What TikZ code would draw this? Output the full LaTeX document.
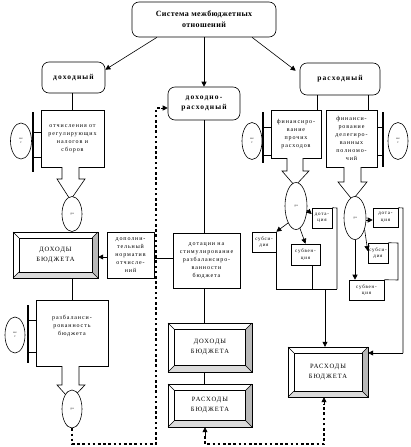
\documentclass[tikz,border=0pt]{standalone}
\usepackage{fontspec}
\setmainfont{Liberation Serif}[LetterSpace=15]
\usetikzlibrary{arrows.meta,calc,shapes.geometric}
\newcommand\bevelbox[7]{%
  \fill[gray!55] (#4,#3) -- (#4,#5) -- ({#4-#6},{#5-#6}) -- ({#4-#6},{#3+#6}) -- cycle;
  \fill[gray!28] (#2,#5) -- (#4,#5) -- ({#4-#6},{#5-#6}) -- ({#2+#6},{#5-#6}) -- cycle;
  \draw[ln] (#2,#3) rectangle (#4,#5);
  \draw[ln] ({#2+#6},{#3+#6}) rectangle ({#4-#6},{#5-#6});
  \draw[ln] (#2,#3) -- ({#2+#6},{#3+#6}) (#4,#3) -- ({#4-#6},{#3+#6})
            (#4,#5) -- ({#4-#6},{#5-#6}) (#2,#5) -- ({#2+#6},{#5-#6});
  \node[bev,minimum width={(#4-#2)*1pt},minimum height={(#5-#3)*1pt}] (#1) at ({(#2+#4)/2},{(#3+#5)/2}) {#7};
}
\newcommand\downarrowshape[7]{% x1 x2 ytop yhead hx1 hx2 tipy
  \filldraw[ln,fill=white] (#1,#3) -- (#1,#4) -- (#5,#4) -- ({(#1+#2)/2},#7) -- (#6,#4) -- (#2,#4) -- (#2,#3);
}
\begin{document}
\begin{tikzpicture}[x=1pt,y=-1pt,
  ln/.style={line width=0.6pt},
  arr/.style={line width=0.6pt,-{Triangle[length=5pt,width=5pt]}},
  dots/.style={line width=2.6pt,dash pattern=on 2.6pt off 2.6pt},
  brk/.style={line width=1.2pt},
  rbox/.style={draw,rounded corners=7pt,line width=0.6pt,align=center,inner sep=0pt},
  sbox/.style={draw,line width=0.6pt,align=center,inner sep=0pt,fill=white},
  cat/.style={font=\fontsize{7.5}{10.5}\selectfont\bfseries},
  txt/.style={font=\fontsize{6}{8}\selectfont},
  sml/.style={font=\fontsize{5}{6.5}\selectfont},
  bev/.style={inner sep=0pt,align=center,font=\fontsize{6.5}{10}\selectfont},
  ell/.style={draw,ellipse,fill=white,line width=0.6pt,inner sep=0pt,font=\fontsize{3}{3.5}\selectfont,align=center},
]
\useasboundingbox (0,0) rectangle (410,447);

% top level
\node[rbox,cat,font=\fontsize{8}{11}\selectfont\bfseries\addfontfeature{LetterSpace=5},minimum width=144pt,minimum height=35pt] (top) at (204,19.5) {Система межбюджетных\\отношений};
\node[rbox,cat,minimum width=63pt,minimum height=31pt] (doh) at (73.5,77.5) {доходный};
\node[rbox,cat,minimum width=72pt,minimum height=33pt] (dohras) at (204,103.5) {доходно-\\расходный};
\node[rbox,cat,minimum width=80pt,minimum height=32pt] (ras) at (340,79) {расходный};

\draw[arr] ($(top.south)+(-47,0)$) -- ($(doh.north east)+(0,8)$);
\draw[arr] (top.south) -- (dohras.north);
\draw[arr] ($(top.south)+(48,0)$) -- ($(ras.north west)+(-4,8)$);

% left column
\node[sbox,txt,minimum width=63pt,minimum height=57pt] (otch) at (72.5,138.5) {отчисления от\\регулирующих\\налогов и\\сборов};
\draw[ln] (doh.south -| otch.north) -- (otch.north);
\draw[brk] (33,112) -- (33,172);
\draw[ln] (33,132) -- (otch.west |- 0,132) (33,157) -- (otch.west |- 0,157);
\node[ell,minimum width=21pt,minimum height=36pt] (e1) at (21,141) {не\\т};
\downarrowshape{62}{79}{167}{179}{57}{85}{200}
\node[ell,minimum width=20pt,minimum height=35pt] (e2) at (72,214) {да};

\bevelbox{dohb1}{13}{232}{98}{278}{6}{ДОХОДЫ\\БЮДЖЕТА}

\node[sbox,txt,minimum width=72pt,minimum height=66pt] (razb) at (72,333) {разбаланси-\\рованность\\бюджета\\[8pt]};
\draw[ln] (dohb1.south -| razb.north) -- (razb.north);
\draw[brk] (28,305) -- (28,363);
\draw[ln] (28,320) -- (razb.west |- 0,320) (28,352) -- (razb.west |- 0,352);
\node[ell,minimum width=20pt,minimum height=36pt] (e3) at (15,335) {не\\т};
\downarrowshape{62}{79}{366}{385}{57}{85}{400}
\node[ell,minimum width=20pt,minimum height=38pt] (e4) at (72,409) {да};

% middle column
\node[sbox,txt,minimum width=47pt,minimum height=46pt] (dop) at (130.5,255) {дополни-\\тельный\\норматив\\отчисле-\\ний};
\node[sbox,txt,minimum width=67pt,minimum height=55pt] (dot) at (206.5,260.5) {дотации на\\стимулирование\\разбалансиро-\\ванности\\бюджета};
\draw[ln] (dohras.south) -- (dohras.south |- dot.north);
\draw[ln] (dot.west |- 0,258) -- (dop.east |- 0,258);
\draw[arr] (dop.west |- 0,257) -- (dohb1.east |- 0,257);

\bevelbox{dohb2}{168}{323}{252}{372}{6.5}{ДОХОДЫ\\БЮДЖЕТА}
\bevelbox{rasb1}{168}{384}{252}{427}{6.5}{РАСХОДЫ\\БЮДЖЕТА}
\draw[ln] (dohras.south |- dot.south) -- (dohras.south |- dohb2.north);
\draw[ln] (dohras.south |- dohb2.south) -- (dohras.south |- rasb1.north);

% right column
\node[sbox,txt,minimum width=50pt,minimum height=48pt] (fin1) at (296,134) {финансиро-\\вание\\прочих\\расходов};
\node[sbox,txt,minimum width=51pt,minimum height=57pt] (fin2) at (351.5,138.5) {финанси-\\рование\\делегиро-\\ванных\\полномо-\\чий};
\draw[ln] (ras.south -| 317,0) -- (fin1.north -| 317,0);
\draw[ln] (ras.south -| 368,0) -- (fin2.north -| 368,0);
\draw[brk] (263,112) -- (263,163);
\draw[ln] (263,127) -- (fin1.west |- 0,127) (263,155) -- (fin1.west |- 0,155);
\node[ell,minimum width=20pt,minimum height=37pt] (e5) at (252,141) {не\\т};
\draw[brk] (383,112) -- (383,167);
\draw[ln] (383,127) -- (fin2.east |- 0,127) (383,155) -- (fin2.east |- 0,155);
\node[ell,minimum width=20pt,minimum height=37pt] (e6) at (398,141) {не\\т};

\downarrowshape{287}{303}{158}{171}{282}{309}{186}
\node[ell,minimum width=22pt,minimum height=47pt] (e7) at (296,206) {да};
\downarrowshape{344}{361}{167}{182}{338}{367}{200}
\node[ell,minimum width=22pt,minimum height=43pt] (e8) at (355,218) {да};

\bevelbox{rasb2}{288}{347}{368}{397}{6}{РАСХОДЫ\\БЮДЖЕТА}

% subsidies, left group
\node[sbox,sml,minimum width=20pt,minimum height=20pt] (dotL) at (322,218) {дота-\\ция};
\node[sbox,sml,minimum width=24pt,minimum height=20pt] (subsL) at (264,242) {субси-\\дия};
\node[sbox,sml,minimum width=29pt,minimum height=21pt] (subvL) at (305.5,254.5) {субвен-\\ция};
\draw[arr] (e7.-20) -- (dotL.west |- 0,214);
\draw[arr] (e7.-115) -- (subsL.north east);
\draw[arr] (e7.-80) -- (subvL.north);
\coordinate (jL) at (325,289);
\draw[ln] (subsL.south east) -- (subsL.south east |- jL) -- (337,289);
\draw[ln] (subvL.south -| 312,0) -- (312,289);
\draw[ln] (dotL.north east) -- (337,208) -- (337,289);
\draw[arr] (jL) -- (rasb2.north -| jL);

% subsidies, right group
\node[sbox,sml,minimum width=25pt,minimum height=19pt] (dotR) at (385.5,217.5) {дота-\\ция};
\node[sbox,sml,minimum width=20pt,minimum height=20pt] (subsR) at (378,253) {субси-\\дия};
\node[sbox,sml,minimum width=35pt,minimum height=20pt] (subvR) at (366.5,290) {субвен-\\ция};
\draw[arr] (e8.east |- 0,220) -- (dotR.west |- 0,220);
\draw[arr] (e8.-50) -- (subsR.west |- 0,251);
\draw[arr] (e8.south) -- (subvR.north -| e8.south);
\draw[ln] (dotR.north east) -- (403,208) -- (403,353);
\draw[arr] (403,353) -- (rasb2.east |- 0,353);
\draw[ln] (subsR.north east) -- (398,243) -- (398,280) -- (subvR.north east);

% dotted feedback lines
\draw[dots] (e4.south) -- (72,444) -- (156,444) -- (156,108) -- (161,108);
\draw[arr] (161,108) -- (dohras.west |- 0,108);
\draw[dots] (205,436) -- (205,444) -- (324,444) -- (324,404);
\draw[arr] (205,436) -- (rasb1.south -| 205,0);
\draw[arr] (324,404) -- (rasb2.south -| 324,0);
\end{tikzpicture}
\end{document}
